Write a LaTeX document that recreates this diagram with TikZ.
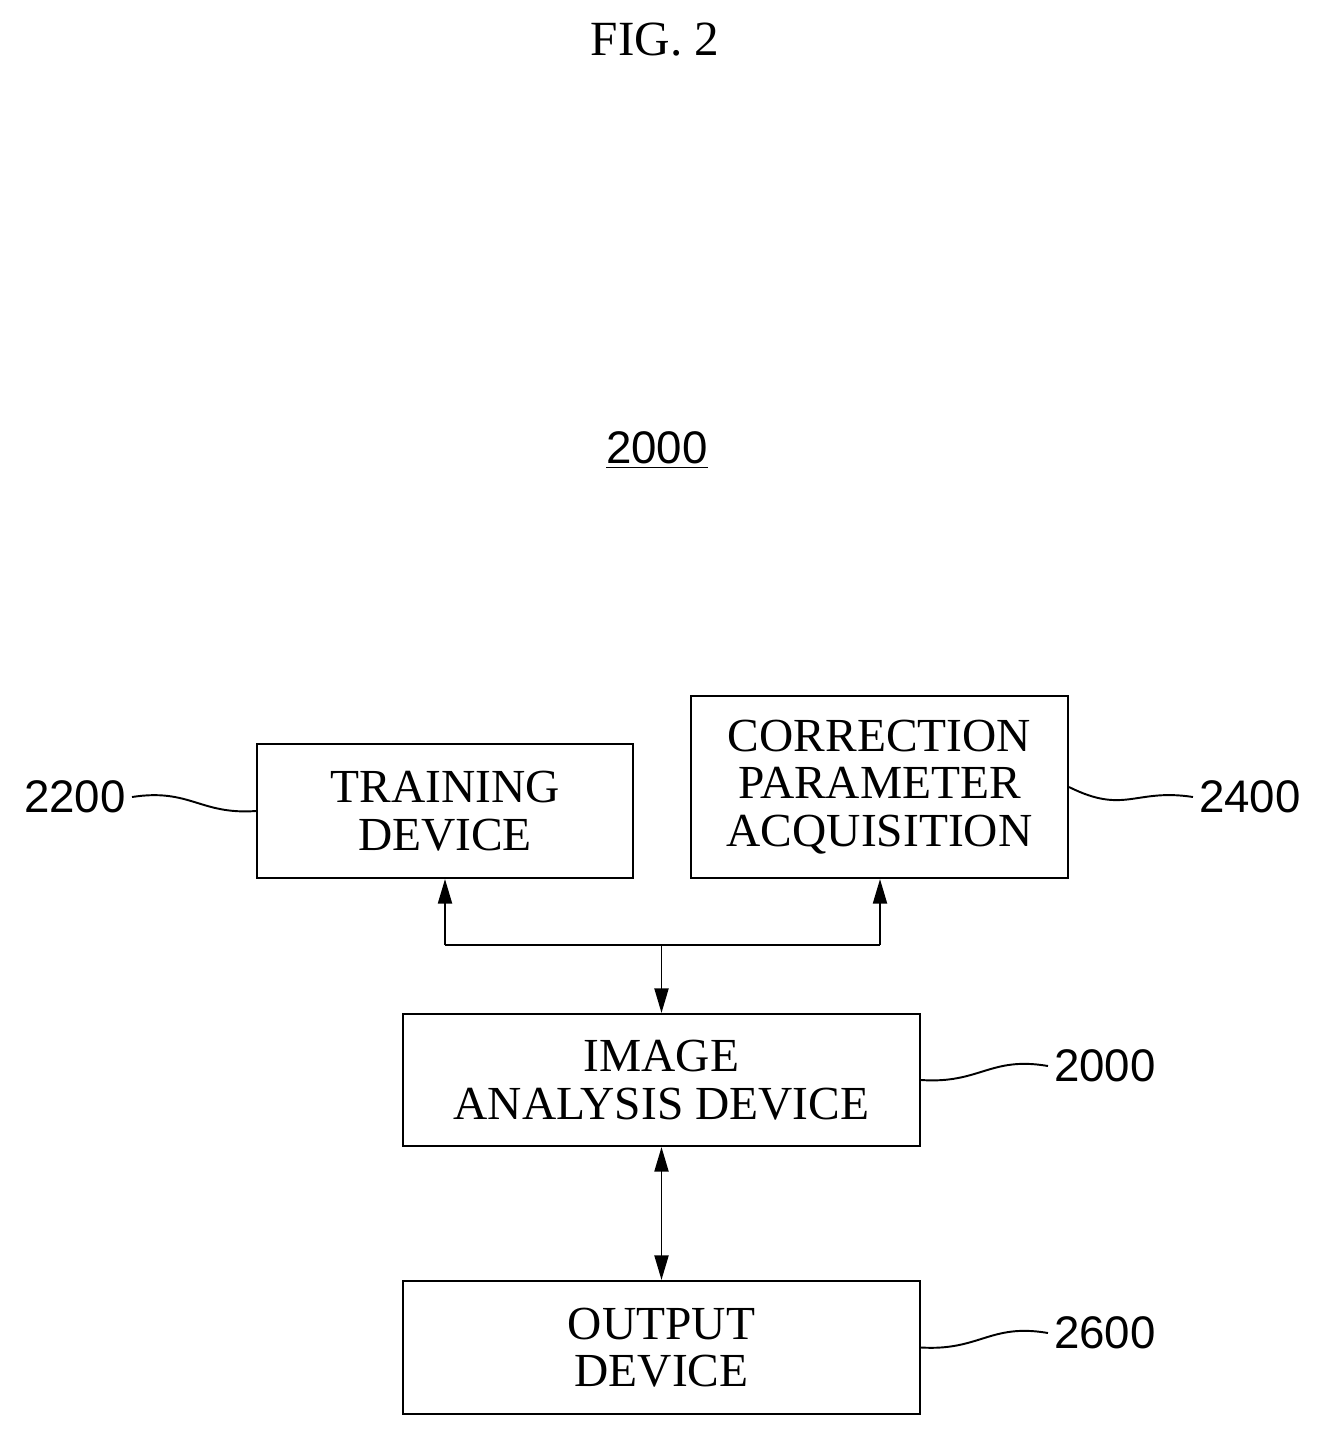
\documentclass[tikz,border=0pt]{standalone}
\usepackage{fontspec}
\setmainfont{Liberation Serif}
\newfontfamily\numfont{Liberation Sans}
\usetikzlibrary{arrows.meta,positioning}
\begin{document}
\begin{tikzpicture}[x=0.02cm,y=-0.02cm,
    box/.style={draw,line width=1.2pt,align=center,font=\fontsize{27}{27}\selectfont,inner sep=0pt},
    refnum/.style={font=\numfont\fontsize{26}{26}\selectfont},
    link/.style={line width=1.1pt},
    tip/.style={-{Triangle[length=14pt,width=8pt]}}]
    % Frame
    \useasboundingbox (0,0) rectangle (1326,1437);
    \node[font=\fontsize{28}{28}\selectfont] (fig) at (655,40) {FIG. 2};
    \node[refnum] (sys) at (657,450) {\underline{2000}};
    % Boxes
    \node[box,minimum width=376*0.02cm,minimum height=134*0.02cm] (train) at (445,811) {TRAINING\\DEVICE};
    \node[box,minimum width=377*0.02cm,minimum height=182*0.02cm] (corr) at (879.5,787) {CORRECTION\\PARAMETER\\ACQUISITION};
    \node[box,minimum width=517*0.02cm,minimum height=132*0.02cm] (anal) at (661.5,1080) {IMAGE\\ANALYSIS DEVICE};
    \node[box,minimum width=517*0.02cm,minimum height=133*0.02cm] (out) at (661.5,1347.5) {OUTPUT\\DEVICE};
    % Reference numbers
    \node[refnum] (n2200) at (75,797) {2200};
    \node[refnum] (n2400) at (1250,797) {2400};
    \node[refnum] (n2000) at (1105,1066) {2000};
    \node[refnum] (n2600) at (1105,1333) {2600};
    \draw[link] (train.west) .. controls (200,815) and (190,788) .. (n2200.east);
    \draw[link] (corr.east) .. controls (1125,815) and (1135,788) .. (n2400.west);
    \draw[link] (anal.east) .. controls (980,1084) and (990,1056) .. (n2000.west);
    \draw[link] (out.east) .. controls (980,1351) and (990,1323) .. (n2600.west);
    % Connectors
    \coordinate (busl) at (445,945);
    \coordinate (busr) at (880,945);
    \coordinate (busm) at (661.5,945);
    \draw[link] (busl) -- (busr);
    \draw[link,tip] (busl) -- (train.south);
    \draw[link,tip] (busr) -- (busr|-corr.south);
    \draw[link,tip] (busm) -- (anal.north);
    \draw[link,{Triangle[length=14pt,width=8pt]}-{Triangle[length=14pt,width=8pt]}] (anal.south) -- (out.north);
\end{tikzpicture}
\end{document}
